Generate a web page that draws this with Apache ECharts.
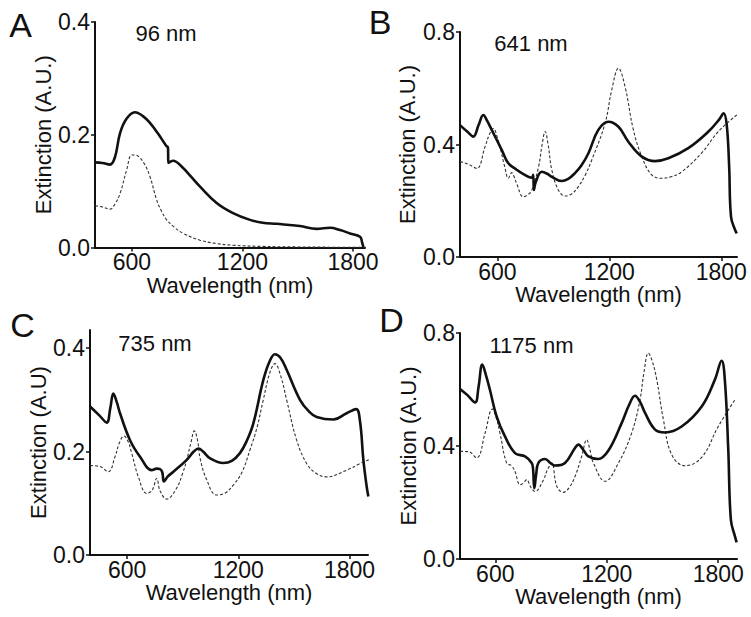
<!DOCTYPE html>
<html><head><meta charset="utf-8">
<script src="https://cdn.jsdelivr.net/npm/echarts@6/dist/echarts.min.js"></script>
<style>html,body{margin:0;padding:0;background:#fff}#c{width:751px;height:617px}</style>
</head><body><div id="c"></div>
<script>
// ---------- data (wavelength nm, extinction A.U.) ----------
const xTicks = [600, 1200, 1800];
const yTicksA = [0, 0.2, 0.4];
const yTicksB = [0, 0.4, 0.8];
const yTicksC = [0, 0.2, 0.4];
const yTicksD = [0, 0.4, 0.8];
const panelLetters = ['A', 'B', 'C', 'D'];
const sizeLabels = ['96 nm', '641 nm', '735 nm', '1175 nm'];

const A_solid = [[400,0.151],[440,0.150],[481,0.147],[508,0.160],[536,0.203],[570,0.228],[617,0.240],[660,0.233],[698,0.221],[740,0.203],[785,0.181],[796,0.177],[798,0.150],[823,0.154],[878,0.141],[920,0.126],[970,0.108],[1060,0.079],[1149,0.061],[1241,0.049],[1310,0.044],[1386,0.042],[1512,0.038],[1603,0.033],[1675,0.035],[1730,0.031],[1784,0.025],[1838,0.019],[1850,0.008],[1856,0.0]];
const A_dot = [[400,0.074],[440,0.072],[481,0.068],[510,0.078],[536,0.096],[572,0.138],[599,0.164],[620,0.164],[644,0.159],[670,0.147],[698,0.126],[735,0.084],[760,0.065],[789,0.049],[830,0.036],[879,0.025],[970,0.013],[1060,0.007],[1149,0.004],[1300,0.002],[1500,0.001],[1700,0.0005],[1900,0.0003]];

const B_solid = [[400,0.469],[440,0.445],[471,0.428],[500,0.470],[525,0.505],[545,0.485],[570,0.452],[624,0.380],[659,0.333],[700,0.312],[731,0.298],[785,0.282],[792,0.292],[796,0.238],[805,0.265],[838,0.303],[870,0.295],[892,0.285],[945,0.270],[980,0.278],[1016,0.298],[1050,0.325],[1088,0.369],[1141,0.452],[1195,0.481],[1249,0.463],[1302,0.410],[1374,0.357],[1445,0.341],[1516,0.351],[1623,0.387],[1731,0.446],[1790,0.490],[1812,0.511],[1829,0.470],[1842,0.321],[1852,0.143],[1874,0.096],[1883,0.084]];
const B_dot = [[400,0.339],[445,0.330],[490,0.315],[534,0.392],[560,0.440],[579,0.457],[600,0.425],[614,0.392],[640,0.320],[659,0.280],[677,0.300],[690,0.285],[704,0.260],[739,0.214],[765,0.222],[785,0.238],[821,0.321],[840,0.400],[856,0.446],[872,0.400],[892,0.309],[927,0.238],[963,0.217],[1000,0.225],[1034,0.250],[1070,0.290],[1106,0.345],[1177,0.475],[1213,0.594],[1249,0.671],[1284,0.606],[1329,0.452],[1374,0.357],[1427,0.292],[1481,0.280],[1530,0.285],[1588,0.303],[1695,0.370],[1784,0.446],[1883,0.505]];

const C_solid = [[400,0.287],[450,0.270],[490,0.256],[510,0.285],[526,0.312],[545,0.295],[562,0.274],[616,0.222],[670,0.190],[733,0.164],[760,0.167],[778,0.166],[790,0.160],[799,0.142],[820,0.152],[850,0.161],[922,0.184],[960,0.200],[985,0.206],[1010,0.200],[1048,0.187],[1119,0.178],[1165,0.182],[1209,0.197],[1245,0.220],[1281,0.254],[1335,0.338],[1370,0.375],[1398,0.388],[1430,0.380],[1461,0.358],[1533,0.300],[1580,0.278],[1623,0.267],[1713,0.262],[1785,0.274],[1836,0.282],[1857,0.258],[1875,0.184],[1893,0.132],[1902,0.113]];
const C_dot = [[400,0.173],[454,0.171],[499,0.161],[535,0.190],[560,0.218],[583,0.230],[605,0.220],[625,0.197],[661,0.151],[706,0.119],[735,0.125],[760,0.148],[778,0.124],[814,0.108],[867,0.129],[900,0.158],[922,0.184],[945,0.218],[963,0.240],[980,0.222],[994,0.187],[1030,0.145],[1083,0.116],[1130,0.120],[1173,0.135],[1220,0.160],[1263,0.203],[1300,0.245],[1335,0.300],[1370,0.352],[1398,0.370],[1430,0.345],[1461,0.300],[1515,0.222],[1569,0.177],[1620,0.158],[1677,0.151],[1785,0.164],[1857,0.177],[1938,0.193],[2030,0.247]];

const D_solid = [[410,0.602],[450,0.580],[491,0.554],[510,0.610],[530,0.688],[550,0.650],[571,0.599],[607,0.505],[652,0.434],[706,0.375],[760,0.363],[796,0.340],[803,0.320],[810,0.251],[820,0.300],[832,0.340],[868,0.354],[900,0.338],[921,0.331],[975,0.340],[1029,0.393],[1047,0.405],[1075,0.385],[1101,0.363],[1154,0.354],[1208,0.383],[1280,0.481],[1320,0.545],[1352,0.578],[1380,0.555],[1406,0.517],[1460,0.458],[1513,0.448],[1603,0.469],[1711,0.540],[1782,0.635],[1818,0.702],[1836,0.630],[1854,0.387],[1868,0.139],[1890,0.080],[1899,0.059]];
const D_dot = [[410,0.381],[455,0.380],[500,0.358],[545,0.446],[584,0.531],[605,0.500],[625,0.446],[661,0.340],[688,0.330],[706,0.310],[733,0.263],[750,0.268],[769,0.281],[790,0.255],[814,0.239],[859,0.280],[880,0.315],[904,0.340],[931,0.257],[966,0.236],[1000,0.255],[1029,0.292],[1065,0.363],[1092,0.422],[1110,0.385],[1128,0.340],[1191,0.275],[1263,0.340],[1334,0.446],[1379,0.564],[1400,0.660],[1424,0.729],[1445,0.700],[1469,0.635],[1505,0.493],[1549,0.370],[1621,0.330],[1711,0.360],[1800,0.469],[1890,0.564]];

// ---------- layout ----------
const FONT = "'Liberation Sans', Arial, Helvetica, sans-serif";
const INK = '#111';
const panels = [
  {grid:{left:95, top:22, width:270, height:225.5}, x:[400,1865], y:[0,0.4], yt:yTicksA, yName:'Extinction (A.U.)', gap:40, solid:A_solid, dot:A_dot},
  {grid:{left:460, top:32, width:277, height:225}, x:[400,1884], y:[0,0.8], yt:yTicksB, yName:'Extinction (A.U.)', gap:42, solid:B_solid, dot:B_dot},
  {grid:{left:90, top:330, width:278, height:225}, x:[400,1900], y:[0,0.435], yt:yTicksC, yName:'Extinction (A.U)', gap:38, solid:C_solid, dot:C_dot},
  {grid:{left:460, top:333, width:277, height:226}, x:[410,1901], y:[0,0.8], yt:yTicksD, yName:'Extinction (A.U.)', gap:38, solid:D_solid, dot:D_dot}
];
const letterPos = [[20.5,24.5],[380,21.5],[22.5,325],[391.5,320]];
const sizePos = [[166,33.5],[531,43],[155,343],[531.5,345]];

const grid=[], xAxis=[], yAxis=[], series=[], graphic=[];
panels.forEach((p,i)=>{
  grid.push(Object.assign({containLabel:false}, p.grid));
  xAxis.push({type:'value', gridIndex:i, min:p.x[0], max:p.x[1],
    name:'Wavelength (nm)', nameLocation:'middle', nameGap:24,
    nameTextStyle:{fontSize:22, color:INK, fontFamily:FONT},
    axisLine:{show:true, onZero:false, lineStyle:{color:INK, width:2}},
    axisTick:{show:true, length:4, customValues:xTicks, lineStyle:{color:INK, width:1.5}},
    axisLabel:{customValues:xTicks, fontSize:23, color:INK, fontFamily:FONT, margin:3, formatter:v=>String(v)},
    splitLine:{show:false}});
  yAxis.push({type:'value', gridIndex:i, min:p.y[0], max:p.y[1],
    name:p.yName, nameLocation:'middle', nameRotate:90, nameGap:p.gap,
    nameTextStyle:{fontSize:22, color:INK, fontFamily:FONT},
    axisLine:{show:true, onZero:false, lineStyle:{color:INK, width:2}},
    axisTick:{show:true, length:4, customValues:p.yt, lineStyle:{color:INK, width:1.5}},
    axisLabel:{customValues:p.yt, fontSize:23, color:INK, fontFamily:FONT, margin:5, formatter:v=>v.toFixed(1)},
    splitLine:{show:false}});
  series.push({type:'line', xAxisIndex:i, yAxisIndex:i, data:p.dot, smooth:0.4, showSymbol:false, clip:false,
    lineStyle:{color:'#333', width:1.1, type:[3,2]}, z:2});
  series.push({type:'line', xAxisIndex:i, yAxisIndex:i, data:p.solid, smooth:0.4, showSymbol:false, clip:false,
    lineStyle:{color:INK, width:2.6}, z:3});
  graphic.push({type:'text', x:letterPos[i][0], y:letterPos[i][1],
    style:{text:panelLetters[i], font:'34px '+FONT, fill:INK, align:'center', verticalAlign:'middle'}});
  graphic.push({type:'text', x:sizePos[i][0], y:sizePos[i][1],
    style:{text:sizeLabels[i], font:'22px '+FONT, fill:INK, align:'center', verticalAlign:'middle'}});
});

const chart = echarts.init(document.getElementById('c'), null, {renderer:'svg'});
chart.setOption({animation:false, backgroundColor:'#fff', grid, xAxis, yAxis, series, graphic});
</script></body></html>
